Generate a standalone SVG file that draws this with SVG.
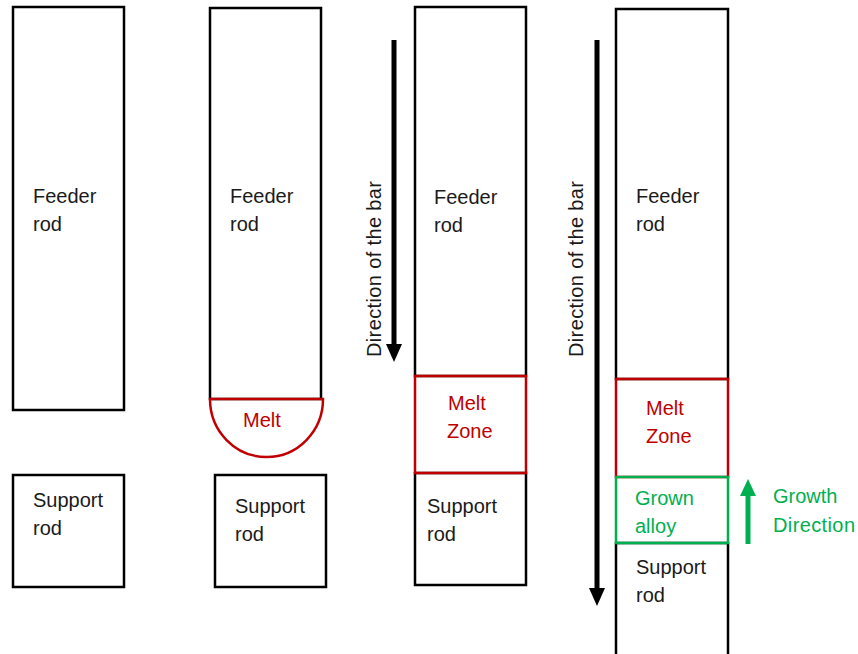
<svg xmlns="http://www.w3.org/2000/svg" width="858" height="654" viewBox="0 0 858 654">
  <defs>
    <style>
      .rod { fill: #fff; stroke: #000; stroke-width: 2.5; }
      .melt { fill: none; stroke: #C00000; stroke-width: 2.5; }
      .grown { fill: none; stroke: #00B050; stroke-width: 2.5; }
      text { font-family: "Liberation Sans", Arial, sans-serif; font-size: 20px; }
      .dark { fill: #1a1a1a; }
      .red { fill: #C00000; }
      .green { fill: #00B050; }
      .bar { stroke: #000; stroke-width: 5; fill: none; }
      .up { stroke: #00B050; stroke-width: 5; fill: none; }
    </style>
  </defs>
  <rect width="858" height="654" fill="#fff"/>

  <!-- Stage 1: separate feeder and support rods -->
  <g id="feeder1">
    <rect class="rod" x="13" y="7" width="111" height="403"/>
    <text class="dark" x="33" y="203">Feeder</text>
    <text class="dark" x="33" y="231">rod</text>
  </g>
  <g id="support1">
    <rect class="rod" x="13" y="475" width="111" height="112"/>
    <text class="dark" x="33" y="507">Support</text>
    <text class="dark" x="33" y="535">rod</text>
  </g>

  <!-- Stage 2: melt droplet under the feeder rod -->
  <g id="feeder2">
    <rect class="rod" x="210" y="8" width="111" height="391"/>
    <text class="dark" x="230" y="203">Feeder</text>
    <text class="dark" x="230" y="231">rod</text>
  </g>
  <g id="melt2">
    <path class="melt" d="M210,399 L323,399 A56.5,58 0 0 1 210,399 Z"/>
    <text class="red" x="243" y="427">Melt</text>
  </g>
  <g id="support2">
    <rect class="rod" x="215" y="475" width="111" height="112"/>
    <text class="dark" x="235" y="513">Support</text>
    <text class="dark" x="235" y="541">rod</text>
  </g>

  <!-- Stage 3: joined bar with melt zone -->
  <g id="feeder3">
    <rect class="rod" x="415" y="7" width="111" height="369"/>
    <text class="dark" x="434" y="204">Feeder</text>
    <text class="dark" x="434" y="232">rod</text>
  </g>
  <g id="support3">
    <rect class="rod" x="415" y="473" width="111" height="112"/>
    <text class="dark" x="427" y="513">Support</text>
    <text class="dark" x="427" y="541">rod</text>
  </g>
  <g id="melt3">
    <rect class="melt" x="415" y="376" width="111" height="97"/>
    <text class="red" x="448" y="410">Melt</text>
    <text class="red" x="447" y="438">Zone</text>
  </g>

  <!-- Stage 4: bar with melt zone and grown alloy -->
  <g id="feeder4">
    <rect class="rod" x="616" y="9" width="112" height="370"/>
    <text class="dark" x="636" y="203">Feeder</text>
    <text class="dark" x="636" y="231">rod</text>
  </g>
  <g id="support4">
    <rect class="rod" x="616" y="543" width="112" height="115"/>
    <text class="dark" x="636" y="574">Support</text>
    <text class="dark" x="636" y="602">rod</text>
  </g>
  <g id="melt4">
    <rect class="melt" x="616" y="379" width="112" height="98"/>
    <text class="red" x="646" y="415">Melt</text>
    <text class="red" x="646" y="443">Zone</text>
  </g>
  <g id="grown4">
    <rect class="grown" x="616" y="477" width="112" height="66"/>
    <text class="green" x="635" y="505">Grown</text>
    <text class="green" x="635" y="533">alloy</text>
  </g>

  <!-- Arrows and their labels -->
  <g id="connectors">
    <line class="bar" x1="394" y1="40" x2="394" y2="346"/>
    <polygon points="386,344 402,344 394,362" fill="#000"/>
    <line class="bar" x1="597" y1="40" x2="597" y2="590"/>
    <polygon points="589,588 605,588 597,606" fill="#000"/>
    <line class="up" x1="748" y1="544" x2="748" y2="494"/>
    <polygon points="740,496 756,496 748,479" fill="#00B050"/>
  </g>
  <g id="labels">
    <text class="dark" transform="translate(381,357) rotate(-90)" textLength="176" lengthAdjust="spacing">Direction of the bar</text>
    <text class="dark" transform="translate(583,357) rotate(-90)" textLength="176" lengthAdjust="spacing">Direction of the bar</text>
    <text class="green" x="773" y="503">Growth</text>
    <text class="green" x="773" y="532" textLength="82" lengthAdjust="spacing">Direction</text>
  </g>
</svg>
